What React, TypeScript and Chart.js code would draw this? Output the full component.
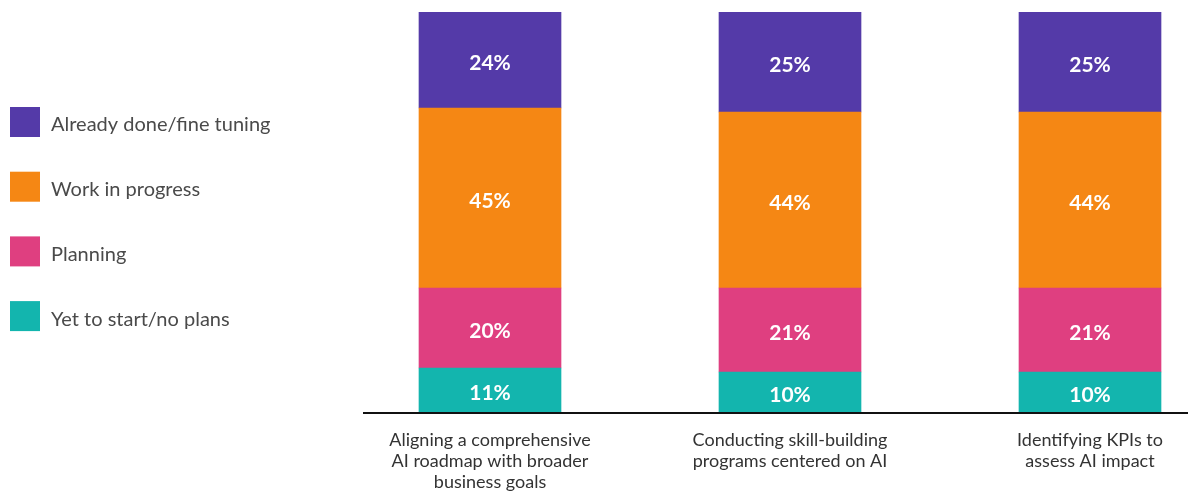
import React, { useEffect, useRef } from "react";
import { Chart, registerables } from "chart.js";

Chart.register(...registerables);

const categories: string[][] = [
  ["Aligning a comprehensive", "AI roadmap with broader", "business goals"],
  ["Conducting skill-building", "programs centered on AI"],
  ["Identifying KPIs to", "assess AI impact"],
];

const seriesNames = ["Yet to start/no plans", "Planning", "Work in progress", "Already done/fine tuning"];
const seriesColors = ["#13b5ae", "#df3f80", "#f58714", "#543aa8"];

const yetToStart = [11, 10, 10];
const planning = [20, 21, 21];
const workInProgress = [45, 44, 44];
const alreadyDone = [24, 25, 25];

const FONT = "Lato, 'Open Sans', sans-serif";

const labelPlugin = {
  id: "segLabels",
  afterDatasetsDraw(chart: any) {
    const ctx = chart.ctx;
    ctx.save();
    ctx.fillStyle = "#ffffff";
    ctx.font = `bold 21px ${FONT}`;
    ctx.textAlign = "center";
    ctx.textBaseline = "middle";
    chart.data.datasets.forEach((ds: any, i: number) => {
      const meta = chart.getDatasetMeta(i);
      meta.data.forEach((el: any, j: number) => {
        const { x, y, base } = el.getProps(["x", "y", "base"], true);
        ctx.fillText(ds.data[j] + "%", x, (y + base) / 2 + 3);
      });
    });
    ctx.restore();
  },
};

const axisLinePlugin = {
  id: "axisLine",
  afterDatasetsDraw(chart: any) {
    const ctx = chart.ctx;
    const { left, bottom } = chart.chartArea;
    ctx.save();
    ctx.strokeStyle = "#111111";
    ctx.lineWidth = 2;
    ctx.beginPath();
    ctx.moveTo(left + 23, bottom + 1);
    ctx.lineTo(chart.width, bottom + 1);
    ctx.stroke();
    ctx.restore();
  },
};

const legendPlugin = {
  id: "sideLegend",
  afterDraw(chart: any) {
    const ctx = chart.ctx;
    ctx.save();
    ctx.font = `20px ${FONT}`;
    ctx.textBaseline = "middle";
    ctx.textAlign = "left";
    const n = chart.data.datasets.length;
    for (let k = 0; k < n; k++) {
      const ds = chart.data.datasets[n - 1 - k];
      const cy = 122 + k * 64.7;
      ctx.fillStyle = ds.backgroundColor;
      ctx.fillRect(10, cy - 15, 30, 30);
      ctx.fillStyle = "#4a4a4a";
      ctx.fillText(ds.label, 51, cy + 3);
    }
    ctx.restore();
  },
};

export default function App() {
  const ref = useRef<HTMLCanvasElement>(null);
  useEffect(() => {
    if (!ref.current) return;
    const values = [yetToStart, planning, workInProgress, alreadyDone];
    const chart = new Chart(ref.current, {
      type: "bar",
      data: {
        labels: categories,
        datasets: seriesNames.map((name, i) => ({
          label: name,
          data: values[i],
          backgroundColor: seriesColors[i],
          borderWidth: 0,
          barThickness: 142,
        })),
      },
      options: {
        animation: false,
        responsive: true,
        maintainAspectRatio: false,
        layout: { padding: { left: 340, right: 20, top: 12, bottom: 0 } },
        plugins: { legend: { display: false }, tooltip: { enabled: false } },
        scales: {
          x: {
            stacked: true,
            grid: { display: false, drawTicks: false },
            border: { display: false },
            ticks: {
              color: "#333333",
              font: { family: FONT, size: 18, lineHeight: 21 / 18 },
              padding: 18,
              maxRotation: 0,
              autoSkip: false,
            },
            afterFit: (s: any) => {
              s.height = 81;
            },
          },
          y: {
            stacked: true,
            display: false,
            min: 0,
            max: 100,
          },
        },
      },
      plugins: [labelPlugin, axisLinePlugin, legendPlugin],
    });
    return () => chart.destroy();
  }, []);
  return (
    <div style={{ position: "fixed", left: 0, top: 0, width: 1188, height: 493, overflow: "hidden", background: "#fff" }}>
      <div style={{ position: "absolute", left: 0, top: 0, width: 1260, height: 493 }}>
        <canvas ref={ref} />
      </div>
    </div>
  );
}
